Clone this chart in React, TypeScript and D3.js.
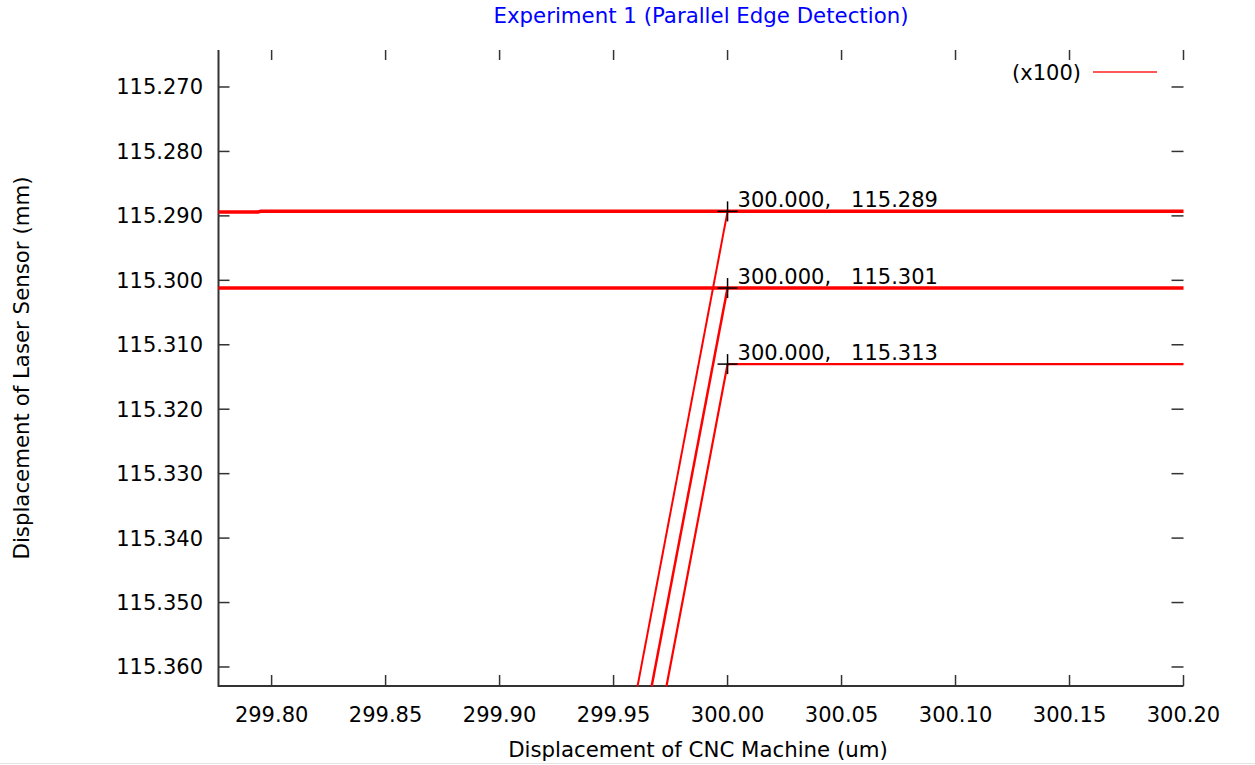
import React from "react";
import * as d3 from "d3";

const xTicks = [299.8, 299.85, 299.9, 299.95, 300.0, 300.05, 300.1, 300.15, 300.2];
const yTicks = [115.27, 115.28, 115.29, 115.3, 115.31, 115.32, 115.33, 115.34, 115.35, 115.36];

// horizontal hold lines (full width)
const holdA = [
  { x: 299.7767, y: 115.2894 },
  { x: 299.794, y: 115.2894 },
  { x: 299.795, y: 115.2893 },
  { x: 300.2, y: 115.2893 },
];
const holdB = [
  { x: 299.7767, y: 115.3012 },
  { x: 300.2, y: 115.3012 },
];
// edge scans
const scan1 = [
  { x: 299.9605, y: 115.363 },
  { x: 300.0, y: 115.2893 },
];
const scan2 = [
  { x: 299.9667, y: 115.363 },
  { x: 300.0, y: 115.3012 },
];
const scan3 = [
  { x: 299.9732, y: 115.363 },
  { x: 300.0, y: 115.313 },
  { x: 300.2, y: 115.313 },
];

const markers = [
  { x: 300.0, y: 115.2893, label: "300.000,   115.289" },
  { x: 300.0, y: 115.3012, label: "300.000,   115.301" },
  { x: 300.0, y: 115.313, label: "300.000,   115.313" },
];

const W = 1255;
const H = 765;
const L = 218.5;
const R = 1183.5;
const T = 50;
const B = 686;
const FONT = "'DejaVu Sans', sans-serif";
const FS = 21;

export default function App() {
  const x = d3.scaleLinear().domain([299.7767, 300.2]).range([L, R]);
  const y = d3.scaleLinear().domain([115.26426, 115.36295]).range([T, B]);
  const line = d3
    .line<{ x: number; y: number }>()
    .x((d) => x(d.x))
    .y((d) => y(d.y));

  return (
    <svg
      width={W}
      height={H}
      style={{ position: "absolute", left: 0, top: 0, background: "#fff" }}
      fontFamily={FONT}
    >
      <rect x={0} y={0} width={W} height={H} fill="#fff" />
      <text x={(L + R) / 2} y={23} textAnchor="middle" fontSize={21.3} fill="#0000ff">
        Experiment 1 (Parallel Edge Detection)
      </text>

      {/* axes lines: left and bottom */}
      <path d={`M${L},${T}V${B}H${R}`} fill="none" stroke="#333" strokeWidth={2} />

      {/* x ticks */}
      {xTicks.map((t) => (
        <g key={"x" + t}>
          <line x1={x(t)} x2={x(t)} y1={B} y2={B - 11} stroke="#333" strokeWidth={1.5} />
          <line x1={x(t)} x2={x(t)} y1={T} y2={T + 10} stroke="#333" strokeWidth={1.5} />
          <text x={x(t)} y={722} textAnchor="middle" fontSize={FS} fill="#000">
            {t.toFixed(2)}
          </text>
        </g>
      ))}

      {/* y ticks */}
      {yTicks.map((t) => (
        <g key={"y" + t}>
          <line x1={L} x2={L + 11} y1={y(t)} y2={y(t)} stroke="#333" strokeWidth={1.5} />
          <line x1={R - 12} x2={R} y1={y(t)} y2={y(t)} stroke="#333" strokeWidth={1.5} />
          <text x={203} y={y(t) + 7.5} textAnchor="end" fontSize={FS} fill="#000">
            {t.toFixed(3)}
          </text>
        </g>
      ))}

      {/* data */}
      <g fill="none" stroke="#ff0000" strokeLinejoin="round">
        <path d={line(holdA) || ""} strokeWidth={3.5} />
        <path d={line(holdB) || ""} strokeWidth={3.5} />
        <path d={line(scan1) || ""} strokeWidth={2} />
        <path d={line(scan2) || ""} strokeWidth={2.5} />
        <path d={line(scan3) || ""} strokeWidth={2.2} />
      </g>

      {/* crosshair markers */}
      {markers.map((m) => (
        <g key={m.label}>
          <line x1={x(m.x) - 10} x2={x(m.x) + 10} y1={y(m.y)} y2={y(m.y)} stroke="#000" strokeWidth={1.5} />
          <line x1={x(m.x)} x2={x(m.x)} y1={y(m.y) - 10} y2={y(m.y) + 10} stroke="#000" strokeWidth={1.5} />
          <text x={x(m.x) + 10} y={y(m.y) - 4} fontSize={FS} fill="#000" style={{ whiteSpace: "pre" }}>
            {m.label}
          </text>
        </g>
      ))}

      {/* legend */}
      <text x={1081} y={80} textAnchor="end" fontSize={FS} fill="#000">
        (x100)
      </text>
      <line x1={1093} x2={1157} y1={72} y2={72} stroke="#ff2020" strokeWidth={1.5} />

      {/* axis titles */}
      <text x={698} y={757} textAnchor="middle" fontSize={21.3} fill="#000">
        Displacement of CNC Machine (um)
      </text>
      <text
        transform={`translate(29,${(T + B) / 2}) rotate(-90)`}
        textAnchor="middle"
        fontSize={21.3}
        fill="#000"
      >
        Displacement of Laser Sensor (mm)
      </text>

      <line x1={0} x2={W} y1={763.5} y2={763.5} stroke="#e4e4e4" strokeWidth={1} />
    </svg>
  );
}
